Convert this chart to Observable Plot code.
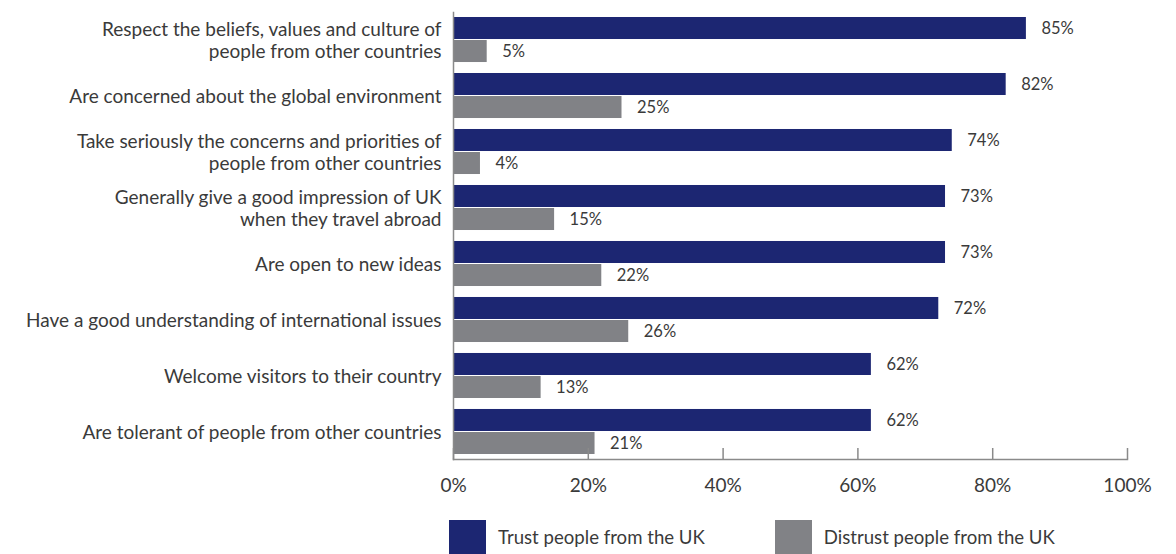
<!DOCTYPE html>
<html>
<head>
<meta charset="utf-8">
<script src="https://cdn.jsdelivr.net/npm/d3@7"></script>
<script src="https://cdn.jsdelivr.net/npm/@observablehq/plot@0.6"></script>
<style>
  html, body { margin: 0; padding: 0; background: #fff; }
  body { width: 1176px; height: 554px; overflow: hidden; font-family: Lato, "Open Sans", sans-serif; color: #3a3a3a; position: relative; }
  #chart svg { display: block; }
  #legend { position: absolute; left: 449px; top: 520px; display: flex; align-items: center; font-size: 18.6px; }
  .item { display: flex; align-items: center; }
  .sw { width: 37px; height: 34px; margin-right: 12px; }
</style>
</head>
<body>
<div id="chart"></div>
<div id="legend"></div>
<script>
const categories = [
  "Respect the beliefs, values and culture of\npeople from other countries",
  "Are concerned about the global environment",
  "Take seriously the concerns and priorities of\npeople from other countries",
  "Generally give a good impression of UK\nwhen they travel abroad",
  "Are open to new ideas",
  "Have a good understanding of international issues",
  "Welcome visitors to their country",
  "Are tolerant of people from other countries"
];
const trust = [85, 82, 74, 73, 73, 72, 62, 62];
const distrust = [5, 25, 4, 15, 22, 26, 13, 21];
const seriesNames = ["Trust people from the UK", "Distrust people from the UK"];
const seriesColors = ["#1c2672", "#818286"];
const xTicks = [0, 20, 40, 60, 80, 100];

const trustData = categories.map((c, i) => ({category: c, value: trust[i]}));
const distrustData = categories.map((c, i) => ({category: c, value: distrust[i]}));

const W = 1176, H = 505, mTop = 12, mBottom = 46, mLeft = 453, mRight = 49;
const plotH = H - mTop - mBottom;
const pInner = 0.196;
const bandTop = 17, bandBottom = 454;
const step = (bandBottom - bandTop) / (categories.length - pInner);
const bw = step * (1 - pInner);
const half = bw / 2;

const chart = Plot.plot({
  width: W, height: H,
  marginTop: mTop, marginBottom: mBottom, marginLeft: mLeft, marginRight: mRight,
  style: {fontFamily: "Lato, 'Open Sans', sans-serif", color: "#3a3a3a", background: "#fff"},
  x: {domain: [0, 100], axis: null},
  y: {domain: categories, range: [bandTop, bandBottom], round: false, paddingInner: pInner, paddingOuter: 0, axis: null},
  marks: [
    Plot.barX(trustData, {x: "value", y: "category", fill: seriesColors[0], insetBottom: half + 0.5}),
    Plot.barX(distrustData, {x: "value", y: "category", fill: seriesColors[1], insetTop: half + 0.5}),
    Plot.text(trustData, {x: "value", y: "category", text: d => d.value + "%", dx: 15, dy: -bw / 4, textAnchor: "start", fontSize: 16.5, fill: "#3a3a3a"}),
    Plot.text(distrustData, {x: "value", y: "category", text: d => d.value + "%", dx: 15, dy: bw / 4, textAnchor: "start", fontSize: 16.5, fill: "#3a3a3a"}),
    Plot.text(categories, {y: d => d, text: d => d, frameAnchor: "left", dx: -12, textAnchor: "end", fontSize: 19, lineHeight: 1.16, fill: "#3a3a3a"}),
    Plot.frame({anchor: "left", stroke: "#8a8a8a", strokeWidth: 1.5}),
    Plot.frame({anchor: "bottom", stroke: "#8a8a8a", strokeWidth: 1.5}),
    Plot.ruleX(xTicks, {x: d => d, insetTop: plotH - 11, stroke: "#8a8a8a", strokeWidth: 1.5}),
    Plot.axisX({ticks: xTicks, tickFormat: d => d + "%", tickSize: 0, tickPadding: 19, fontSize: 19, fill: "#3a3a3a", label: null})
  ]
});
document.getElementById("chart").appendChild(chart);

const legend = document.getElementById("legend");
seriesNames.forEach((name, i) => {
  const item = document.createElement("div");
  item.className = "item";
  item.style.marginRight = i === 0 ? "70px" : "0";
  const sw = document.createElement("div");
  sw.className = "sw";
  sw.style.background = seriesColors[i];
  const label = document.createElement("span");
  label.textContent = name;
  item.appendChild(sw);
  item.appendChild(label);
  legend.appendChild(item);
});
</script>
</body>
</html>
